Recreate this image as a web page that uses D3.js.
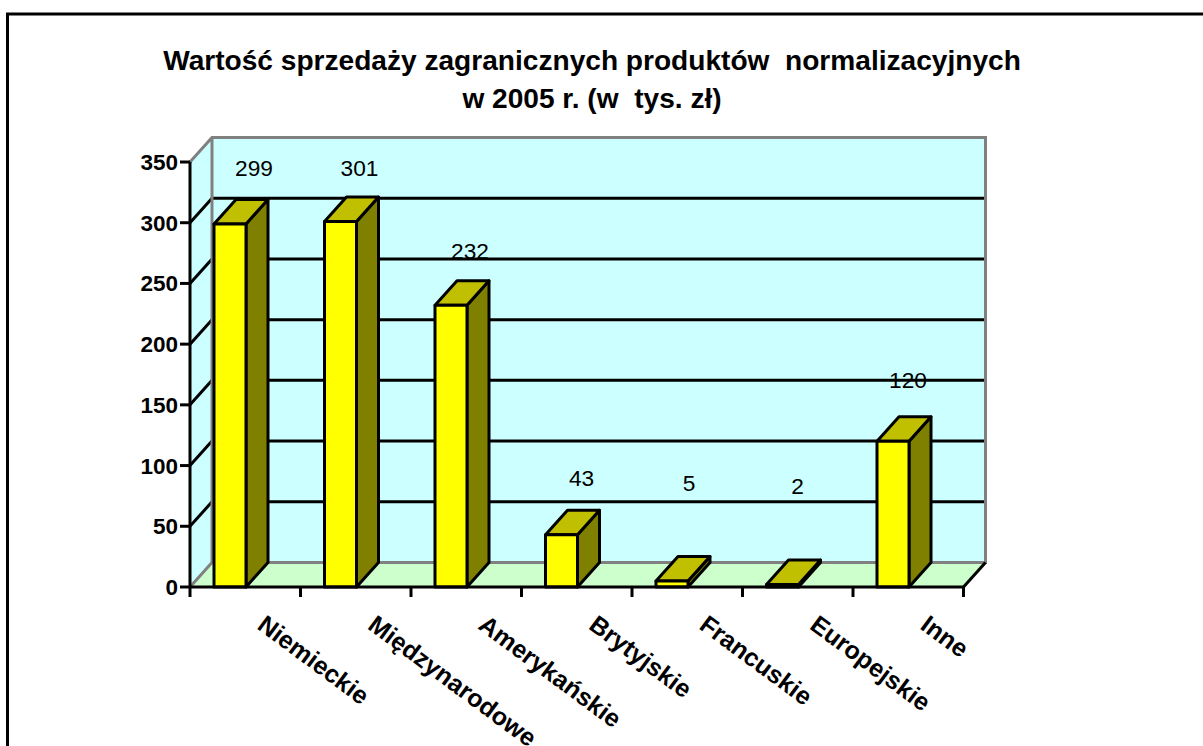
<!DOCTYPE html>
<html><head><meta charset="utf-8">
<script src="https://cdn.jsdelivr.net/npm/d3@7"></script>
<style>html,body{margin:0;padding:0;background:#fff;overflow:hidden}svg{display:block}text{font-family:"Liberation Sans",Arial,sans-serif;white-space:pre}</style>
</head><body><svg id="c" width="1203" height="746"></svg>
<script>
const categories=["Niemieckie","Międzynarodowe","Amerykańskie","Brytyjskie","Francuskie","Europejskie","Inne"];
const values=[299,301,232,43,5,2,120];
const yTicks=[0,50,100,150,200,250,300,350];
const titleLines=["Wartość sprzedaży zagranicznych produktów  normalizacyjnych","w 2005 r. (w  tys. zł)"];

const W=1203,H=746,dx=22,dy=-24.5;
const svg=d3.select("#c");
const x=d3.scaleBand().domain(categories).range([190,963.5]);
const y=d3.scaleLinear().domain([0,350]).range([587,162]);
const barOff=24,barW=32,sw=3;
const x0=x.range()[0],x1=x.range()[1],y0=y(0),yT=y(350);
const poly=(g,pts,fill,stroke,w)=>g.append("polygon").attr("points",pts.map(p=>p.join(",")).join(" ")).attr("fill",fill).attr("stroke",stroke).attr("stroke-width",w).attr("stroke-linejoin","round");
const line=(g,a,b,stroke,w)=>g.append("line").attr("x1",a[0]).attr("y1",a[1]).attr("x2",b[0]).attr("y2",b[1]).attr("stroke",stroke).attr("stroke-width",w);

// outer frame (open at right and bottom, as cropped in the source)
svg.append("path").attr("d",`M7.5,${H+5}V14H${W+5}`).attr("fill","none").attr("stroke","#000").attr("stroke-width",3);

// title
svg.append("g").selectAll("text").data(titleLines).join("text")
 .attr("x",592).attr("y",(d,i)=>69.5+i*38).attr("text-anchor","middle")
 .attr("font-size",28.1).attr("font-weight","bold").text(d=>d);

const g=svg.append("g");
// walls
poly(g,[[x0+dx,yT+dy],[x1+dx,yT+dy],[x1+dx,y0+dy],[x0+dx,y0+dy]],"#ccffff","none",0);
poly(g,[[x0,yT],[x0+dx,yT+dy],[x0+dx,y0+dy],[x0,y0]],"#ccffff","none",0);
poly(g,[[x0,y0],[x0+dx,y0+dy],[x1+dx,y0+dy],[x1,y0]],"#ccffcc","none",0);
// gridlines
yTicks.slice(1,-1).forEach(t=>{
  line(g,[x0,y(t)],[x0+dx,y(t)+dy],"#000",sw);
  line(g,[x0+dx,y(t)+dy],[x1+dx,y(t)+dy],"#000",sw);
});
// wall edges
g.append("path").attr("d",`M${x0},${yT}L${x0+dx},${yT+dy}H${x1+dx}V${y0+dy}H${x0+dx}V${yT+dy}M${x0+dx},${y0+dy}L${x0},${y0}`)
 .attr("fill","none").attr("stroke","#808080").attr("stroke-width",sw);
// floor right edge
line(g,[x1,y0],[x1+dx,y0+dy],"#000",sw);

// bars
const bars=g.selectAll("g.bar").data(categories.map((c,i)=>({c,v:values[i]}))).join("g").attr("class","bar");
bars.each(function(d){
  const b=d3.select(this),l=x(d.c)+barOff,r=l+barW,t=y(d.v);
  poly(b,[[r,y0],[r+dx,y0+dy],[r+dx,t+dy],[r,t]],"#808000","#000",sw);
  poly(b,[[l,t],[l+dx,t+dy],[r+dx,t+dy],[r,t]],"#c0c000","#000",sw);
  poly(b,[[l,y0],[r,y0],[r,t],[l,t]],"#ffff00","#000",sw);
});

// axes
const axG=svg.append("g");
line(axG,[x0,yT],[x0,y0+10],"#000",sw);
line(axG,[x0-1,y0],[x1+1,y0],"#000",sw);
yTicks.forEach(t=>{
  line(axG,[x0-10,y(t)],[x0,y(t)],"#000",sw);
  axG.append("text").attr("x",x0-12).attr("y",y(t)+8).attr("text-anchor","end").attr("font-size",22.5).attr("font-weight","bold").text(t);
});
categories.forEach(c=>line(axG,[x(c)+x.bandwidth(),y0],[x(c)+x.bandwidth(),y0+10],"#000",sw));
categories.forEach(c=>{
  const px=x(c)+66,py=y0+41;
  axG.append("text").attr("transform",`translate(${px},${py}) rotate(36.5)`).attr("font-size",25).attr("font-weight","bold").text(c);
});

// value labels: offsets from each bar as placed in the source
const labelGap=[48,45.5,46,49,90,90.6,53];
const labelShift=[24,19,19,20,17,15,15];
values.forEach((v,i)=>{
  svg.append("text").attr("x",x(categories[i])+barOff+barW/2+labelShift[i]).attr("y",y(v)-labelGap[i])
   .attr("text-anchor","middle").attr("font-size",22.7).text(v);
});
</script></body></html>
